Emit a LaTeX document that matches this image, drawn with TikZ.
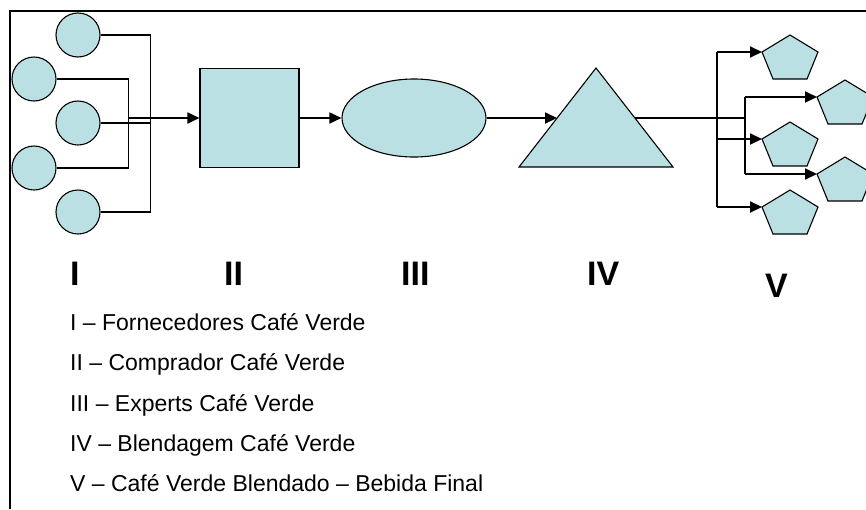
\documentclass[tikz,border=0pt]{standalone}
\usepackage{fontspec}
\setmainfont{Liberation Sans}
\usetikzlibrary{arrows.meta,shapes.geometric}
\definecolor{shapefill}{RGB}{187,224,227}
\tikzset{
  shapeline/.style={draw=black,line width=1.1pt,fill=shapefill},
  circ/.style={shapeline,circle,minimum size=44pt,inner sep=0pt},
  conn/.style={draw=black,line width=1.8pt},
  arr/.style={conn,-{Triangle[length=12pt,width=11pt]}},
  frameline/.style={draw=black,line width=1.4pt},
  biglabel/.style={inner sep=0pt,anchor=base west,font=\bfseries\fontsize{34}{38}\selectfont},
  legend/.style={inner sep=0pt,anchor=base west,font=\fontsize{23}{27}\selectfont},
  penta/.pic={
    \draw[shapeline] (28,0) -- (56,17) -- (45,44) -- (11,44) -- (0,17) -- cycle;
    \coordinate (-w) at (0,17);
  }
}
\begin{document}
\begin{tikzpicture}[x=1pt,y=-1pt]
\useasboundingbox (0,0) rectangle (866,509);
% frame
\draw[frameline] (10,509) -- (10,11) -- (866,11);

% stage I: circles
\node[circ] (c1) at (78,35) {};
\node[circ] (c2) at (34,79) {};
\node[circ] (c3) at (78,123) {};
\node[circ] (c4) at (34,168) {};
\node[circ] (c5) at (78,212) {};
\draw[conn] (c1.east) -- ++(50,0) |- (c5.east);
\draw[conn] (c2.east) -- ++(72,0) |- (c4.east);
\draw[conn] (c3.east) -- ++(50,0);
\coordinate (jI) at (128,118);

% stage II: square
\node[shapeline,minimum size=99pt,inner sep=0pt] (sq) at (249.5,118) {};
\draw[arr] (jI) -- (sq.west);

% stage III: ellipse
\node[shapeline,ellipse,minimum width=144pt,minimum height=78pt,inner sep=0pt] (el) at (414,118) {};
\draw[arr] (sq.east) -- (el.west);

% stage IV: triangle
\coordinate (tA) at (596,68);
\coordinate (tB) at (519,167);
\coordinate (tC) at (673,167);
\coordinate (tL) at (557,118);
\coordinate (tR) at (635,118);
\draw[arr] (el.east) -- (tL);
\draw[shapeline] (tA) -- (tC) -- (tB) -- cycle;

% stage V: pentagons
\pic (p1) at (762,35) {penta};
\pic (p2) at (817,80) {penta};
\pic (p3) at (762,122) {penta};
\pic (p4) at (817,157) {penta};
\pic (p5) at (762,190) {penta};
\coordinate (jV) at (745,118);
\coordinate (v1) at (717,52);
\coordinate (v5) at (717,207);
\coordinate (v2) at (745,97);
\coordinate (v4) at (745,174);
\draw[conn] (tR) -- (jV);
\draw[conn] (v1) -- (v5);
\draw[conn] (v2) -- (v4);
\draw[arr] (v1) -- (p1-w);
\draw[arr] (717,139) -- (p3-w);
\draw[arr] (v5) -- (p5-w);
\draw[arr] (v2) -- (p2-w);
\draw[arr] (v4) -- (p4-w);

% stage labels
\node[biglabel] (lI) at (70,285) {I};
\node[biglabel] (lII) at (224,285) {II};
\node[biglabel] (lIII) at (401,285) {III};
\node[biglabel] (lIV) at (587,285) {IV};
\node[biglabel] (lV) at (765,297) {V};

% legend
\node[legend] (t1) at (70,330) {I – Fornecedores Café Verde};
\node[legend] (t2) at (70,370) {II – Comprador Café Verde};
\node[legend] (t3) at (70,411) {III – Experts Café Verde};
\node[legend] (t4) at (70,451) {IV – Blendagem Café Verde};
\node[legend] (t5) at (70,491) {V – Café Verde Blendado – Bebida Final};
\end{tikzpicture}
\end{document}
